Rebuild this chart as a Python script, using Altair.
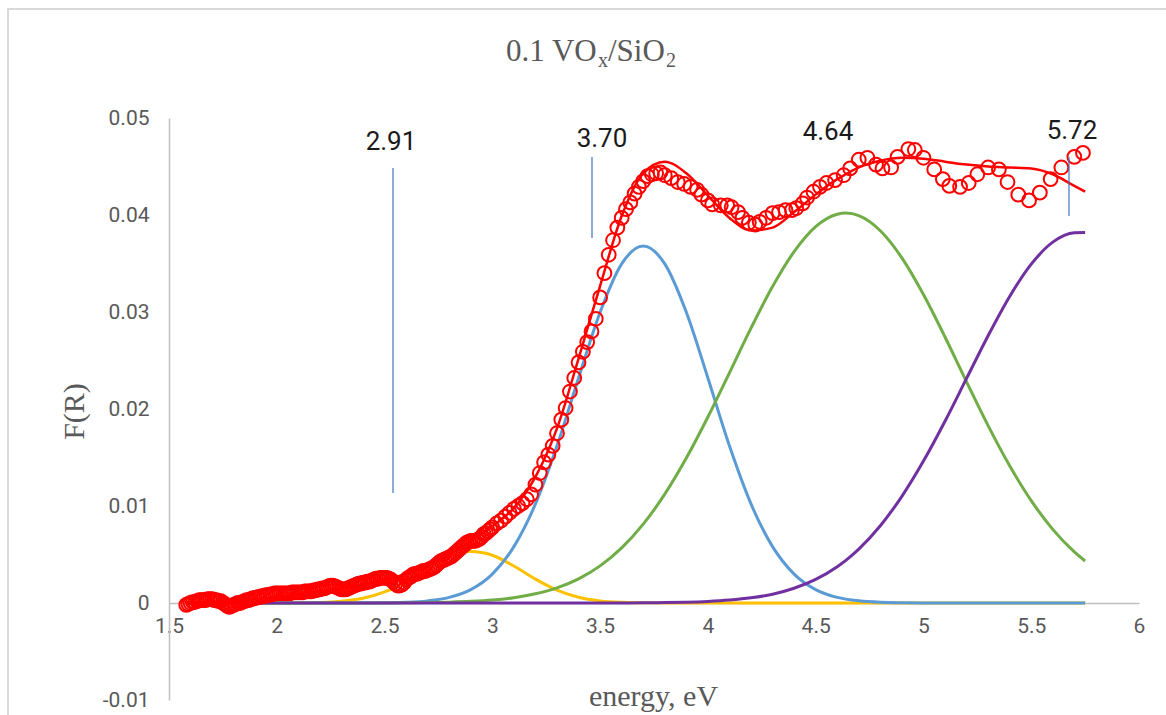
import altair as alt
import pandas as pd

# Measured Kubelka-Munk function F(R) against photon energy (eV)
energy_obs = [
    1.58, 1.59, 1.60, 1.61, 1.62, 1.63, 1.64, 1.65, 1.66, 1.67, 1.68, 1.69,
    1.70, 1.71, 1.72, 1.73, 1.74, 1.75, 1.76, 1.77, 1.78, 1.79, 1.80, 1.81,
    1.82, 1.83, 1.84, 1.85, 1.86, 1.87, 1.88, 1.89, 1.90, 1.91, 1.92, 1.93,
    1.94, 1.95, 1.96, 1.97, 1.98, 1.99, 2.00, 2.01, 2.02, 2.03, 2.04, 2.05,
    2.06, 2.07, 2.08, 2.09, 2.10, 2.11, 2.12, 2.13, 2.14, 2.15, 2.16, 2.17,
    2.18, 2.19, 2.20, 2.21, 2.22, 2.23, 2.24, 2.25, 2.26, 2.27, 2.28, 2.29,
    2.30, 2.31, 2.32, 2.33, 2.34, 2.35, 2.36, 2.37, 2.38, 2.39, 2.40, 2.41,
    2.42, 2.43, 2.44, 2.45, 2.46, 2.47, 2.48, 2.49, 2.50, 2.51, 2.52, 2.53,
    2.54, 2.55, 2.56, 2.57, 2.58, 2.59, 2.60, 2.61, 2.62, 2.63, 2.64, 2.65,
    2.66, 2.67, 2.68, 2.69, 2.70, 2.71, 2.72, 2.73, 2.74, 2.75, 2.76, 2.77,
    2.78, 2.79, 2.80, 2.81, 2.82, 2.83, 2.84, 2.85, 2.86, 2.87, 2.88, 2.89,
    2.90, 2.91, 2.92, 2.93, 2.94, 2.95, 2.96, 2.97, 2.98, 2.99, 3.00,
    3.02, 3.04, 3.06, 3.08, 3.10, 3.12, 3.14, 3.16, 3.18, 3.20, 3.22, 3.24,
    3.26, 3.28, 3.30, 3.32, 3.34, 3.36, 3.38, 3.40, 3.42, 3.44, 3.46, 3.48,
    3.50, 3.52, 3.54, 3.56, 3.58, 3.60, 3.62, 3.64, 3.66, 3.68, 3.70, 3.72,
    3.74, 3.76, 3.78, 3.80, 3.83, 3.86, 3.89, 3.92, 3.95, 3.97, 4.00, 4.02,
    4.06, 4.09, 4.11, 4.14, 4.16, 4.19, 4.22, 4.24, 4.27, 4.30, 4.33, 4.36,
    4.39, 4.41, 4.44, 4.46, 4.49, 4.52, 4.55, 4.59, 4.63, 4.66, 4.70, 4.74,
    4.78, 4.81, 4.85, 4.88, 4.93, 4.96, 5.00, 5.05, 5.09, 5.12, 5.17, 5.21,
    5.25, 5.30, 5.35, 5.39, 5.44, 5.49, 5.54, 5.59, 5.64, 5.70, 5.74,
]
fr_obs = [
    -0.0002, -0.0001, 0.0000, 0.0001, 0.0001, 0.0002, 0.0003, 0.0003, 0.0003, 0.0003, 0.0004, 0.0004,
    0.0004, 0.0003, 0.0003, 0.0002, 0.0002, 0.0000, -0.0001, -0.0003, -0.0004, -0.0003, -0.0002, -0.0001,
    0.0000, 0.0000, 0.0001, 0.0002, 0.0003, 0.0003, 0.0004, 0.0005, 0.0005, 0.0006, 0.0006, 0.0007,
    0.0007, 0.0008, 0.0008, 0.0009, 0.0009, 0.0010, 0.0010, 0.0010, 0.0010, 0.0010, 0.0010, 0.0010,
    0.0010, 0.0011, 0.0011, 0.0011, 0.0011, 0.0011, 0.0011, 0.0012, 0.0012, 0.0012, 0.0012, 0.0013,
    0.0013, 0.0014, 0.0014, 0.0015, 0.0015, 0.0016, 0.0017, 0.0018, 0.0018, 0.0017, 0.0016, 0.0015,
    0.0014, 0.0014, 0.0014, 0.0015, 0.0016, 0.0017, 0.0018, 0.0019, 0.0020, 0.0020, 0.0021, 0.0021,
    0.0022, 0.0022, 0.0023, 0.0024, 0.0025, 0.0025, 0.0026, 0.0026, 0.0026, 0.0026, 0.0025, 0.0024,
    0.0022, 0.0020, 0.0018, 0.0018, 0.0019, 0.0021, 0.0024, 0.0026, 0.0027, 0.0029, 0.0030, 0.0030,
    0.0031, 0.0032, 0.0033, 0.0033, 0.0034, 0.0035, 0.0036, 0.0037, 0.0039, 0.0041, 0.0043, 0.0044,
    0.0045, 0.0046, 0.0047, 0.0048, 0.0050, 0.0052, 0.0054, 0.0056, 0.0058, 0.0060, 0.0062, 0.0063,
    0.0064, 0.0064, 0.0064, 0.0065, 0.0066, 0.0068, 0.0071, 0.0072, 0.0074, 0.0076, 0.0078,
    0.0082, 0.0085, 0.0089, 0.0093, 0.0097, 0.0100, 0.0103, 0.0107, 0.0112, 0.0122, 0.0134, 0.0145,
    0.0153, 0.0162, 0.0175, 0.0189, 0.0201, 0.0218, 0.0232, 0.0248, 0.0259, 0.0269, 0.0280, 0.0293,
    0.0315, 0.0340, 0.0359, 0.0374, 0.0387, 0.0397, 0.0406, 0.0413, 0.0422, 0.0429, 0.0435, 0.0440,
    0.0442, 0.0443, 0.0444, 0.0441, 0.0438, 0.0434, 0.0432, 0.0429, 0.0426, 0.0421, 0.0415, 0.0411,
    0.0410, 0.0410, 0.0408, 0.0403, 0.0397, 0.0392, 0.0390, 0.0393, 0.0397, 0.0402, 0.0403, 0.0405,
    0.0405, 0.0407, 0.0412, 0.0418, 0.0424, 0.0429, 0.0433, 0.0436, 0.0441, 0.0448, 0.0457, 0.0459,
    0.0452, 0.0448, 0.0449, 0.0460, 0.0468, 0.0467, 0.0459, 0.0447, 0.0437, 0.0430, 0.0429, 0.0433,
    0.0442, 0.0449, 0.0447, 0.0434, 0.0421, 0.0415, 0.0423, 0.0437, 0.0449, 0.0460, 0.0464,
]

# Fitted curve and its Gaussian components on a common energy grid
energy_grid = [
    1.58, 1.7, 1.8, 1.9, 2.0, 2.1, 2.2, 2.3, 2.4, 2.5, 2.6, 2.7, 2.8, 2.9, 3.0,
    3.1, 3.2, 3.3, 3.4, 3.5, 3.6, 3.7, 3.8, 3.9, 4.0, 4.1, 4.2, 4.3, 4.4, 4.5,
    4.6, 4.64, 4.7, 4.8, 4.9, 5.0, 5.1, 5.2, 5.3, 5.4, 5.5, 5.6, 5.7, 5.75,
]
band_291 = [
    0, 0, 0, 0, 0, 0.00001, 0.00005, 0.00018, 0.00049, 0.00114, 0.00221, 0.00355, 0.00475, 0.0053, 0.00492,
    0.00381, 0.00246, 0.00132, 0.00059, 0.00022, 0.00007, 0.00002, 0, 0, 0, 0, 0, 0, 0, 0,
    0, 0, 0, 0, 0, 0, 0, 0, 0, 0, 0, 0, 0, 0,
]
band_370 = [
    0, 0, 0, 0, 0, 0, 0, 0, 0, 0.00002, 0.00007, 0.00022, 0.00058, 0.00138, 0.00298,
    0.00581, 0.01021, 0.0162, 0.0232, 0.02997, 0.03496, 0.0368, 0.03496, 0.02997, 0.0232, 0.0162, 0.01021, 0.00581, 0.00298, 0.00138,
    0.00058, 0.0004, 0.00022, 0.00007, 0.00002, 0, 0, 0, 0, 0, 0, 0, 0, 0,
]
band_464 = [
    0, 0, 0, 0, 0, 0, 0, 0, 0, 0.00001, 0.00002, 0.00004, 0.00009, 0.00017, 0.00031,
    0.00055, 0.00095, 0.00156, 0.00249, 0.00383, 0.00568, 0.00813, 0.01122, 0.01494, 0.01917, 0.02373, 0.02833, 0.03262, 0.03622, 0.0388,
    0.04008, 0.0402, 0.03994, 0.03838, 0.03558, 0.0318, 0.02742, 0.0228, 0.01829, 0.01415, 0.01055, 0.00759, 0.00527, 0.00433,
]
band_572 = [
    0, 0, 0, 0, 0, 0, 0, 0, 0, 0, 0, 0, 0, 0, 0,
    0, 0, 0, 0, 0, 0.00001, 0.00002, 0.00004, 0.00008, 0.00016, 0.0003, 0.00053, 0.00091, 0.00152, 0.00243,
    0.00374, 0.0044, 0.00556, 0.00797, 0.011, 0.01463, 0.01874, 0.02315, 0.02755, 0.0316, 0.03493, 0.0372, 0.03817, 0.0382,
]
fit_total = [
    0.0000, 0.0001, 0.0002, 0.0004, 0.0006, 0.0009, 0.0012, 0.0015, 0.0019, 0.0024, 0.0030, 0.0038, 0.0050, 0.0064, 0.0079,
    0.0098, 0.0130, 0.0180, 0.0252, 0.0327, 0.0399, 0.0443, 0.0455, 0.0443, 0.0420, 0.0397, 0.0384, 0.0387, 0.0403, 0.0421,
    0.0437, 0.0442, 0.0449, 0.0456, 0.0459, 0.0458, 0.0455, 0.0452, 0.0450, 0.0449, 0.0448, 0.0442, 0.0430, 0.0424,
]

peak_labels = ["2.91", "3.70", "4.64", "5.72"]

GRAY = "#595959"
SANS = "Roboto"
SERIF = "Liberation Serif"

x_scale = alt.Scale(domain=[1.5, 6], nice=False, zero=False)
y_scale = alt.Scale(domain=[-0.01, 0.05], nice=False, zero=False)

x_axis = alt.Axis(
    values=[1.5, 2, 2.5, 3, 3.5, 4, 4.5, 5, 5.5, 6], format="~g",
    offset=-97, grid=False, ticks=False,
    domainColor="#BFBFBF", domainWidth=1.5,
    labelFont=SANS, labelFontSize=21, labelColor=GRAY, labelPadding=12,
    labelFlush=False, labelOverlap=False,
    title="energy, eV", titleFont=SERIF, titleFontSize=30, titleFontWeight="normal",
    titleColor=GRAY, titleX=484, titleY=102, titleAlign="center", titleBaseline="alphabetic",
)
y_axis = alt.Axis(
    values=[-0.01, 0, 0.01, 0.02, 0.03, 0.04, 0.05],
    labelExpr="datum.value == 0 ? '0' : (datum.value < 0 ? '-' + format(-datum.value, '.2f') : format(datum.value, '.2f'))",
    grid=False, ticks=False,
    domainColor="#BFBFBF", domainWidth=1.5,
    labelFont=SANS, labelFontSize=21, labelColor=GRAY, labelPadding=20,
    labelFlush=False, labelOverlap=False,
    title="F(R)", titleFont=SERIF, titleFontSize=30, titleFontWeight="normal",
    titleColor=GRAY, titleAngle=270, titleX=-86, titleY=293,
    titleAlign="center", titleBaseline="alphabetic",
)

obs = pd.DataFrame({"energy": energy_obs, "fr": fr_obs})
model = pd.DataFrame({
    "energy": energy_grid,
    "band_291": band_291,
    "band_370": band_370,
    "band_464": band_464,
    "band_572": band_572,
    "fit_total": fit_total,
})

def curve(column, color, width):
    return alt.Chart(model).mark_line(
        color=color, strokeWidth=width, interpolate="monotone", clip=True
    ).encode(
        x=alt.X("energy:Q", scale=x_scale, axis=x_axis),
        y=alt.Y(f"{column}:Q", scale=y_scale, axis=y_axis),
    )

components = [
    curve("band_291", "#FFC000", 3),
    curve("band_370", "#5B9BD5", 3),
    curve("band_464", "#70AD47", 3),
    curve("band_572", "#7030A0", 3),
]

points = alt.Chart(obs).mark_point(
    shape="circle", filled=False, size=190, strokeWidth=2,
    color="#FF0000", opacity=1,
).encode(
    x=alt.X("energy:Q", scale=x_scale, axis=x_axis),
    y=alt.Y("fr:Q", scale=y_scale, axis=y_axis),
)

fit = curve("fit_total", "#FF0000", 2.5)

one = pd.DataFrame({"k": [0]})

# Peak position annotations with their marker lines
label_pos = [(222, 32), (433, 29), (659, 22), (903, 21)]
labels = [
    alt.Chart(one).mark_text(
        text=t, font=SANS, fontSize=26, color="#1a1a1a", align="center", baseline="alphabetic"
    ).encode(x=alt.value(px), y=alt.value(py))
    for t, (px, py) in zip(peak_labels, label_pos)
]
marker_lines = [
    alt.Chart(one).mark_rule(color="#4472C4", strokeWidth=1.2).encode(
        x=alt.value(lx), y=alt.value(ly1), y2=alt.value(ly2)
    )
    for lx, ly1, ly2 in [(224, 50, 375), (423, 39, 120), (900, 39, 98)]
]

# Title with subscripts: 0.1 VOx/SiO2
title_parts = [
    ("0.1 VO", 337, -57, 31),
    ("x", 429, -51, 20),
    ("/SiO", 439, -57, 31),
    ("2", 497, -51, 20),
]
title_marks = [
    alt.Chart(one).mark_text(
        text=t, font=SERIF, fontSize=fs, color=GRAY, align="left", baseline="alphabetic"
    ).encode(x=alt.value(tx), y=alt.value(ty))
    for t, tx, ty, fs in title_parts
]

frame = alt.Chart(one).mark_rect(
    fill=None, stroke="#D9D9D9", strokeWidth=2
).encode(
    x=alt.value(-161), x2=alt.value(1010), y=alt.value(-109), y2=alt.value(610)
)

chart = alt.layer(
    frame, *components, points, fit, *marker_lines, *labels, *title_marks
).properties(
    width=970, height=582,
    autosize=alt.AutoSizeParams(type="none"),
    padding={"left": 169, "top": 118, "right": 27, "bottom": 15},
    background="white",
).configure_view(stroke=None)

chart.save("out.html", embed_options={"renderer": "svg", "actions": False})
